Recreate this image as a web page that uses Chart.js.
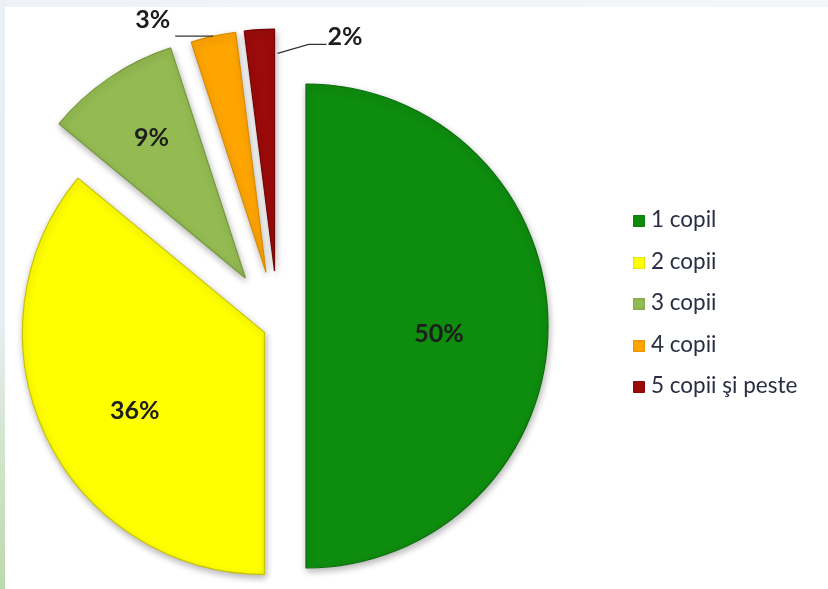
<!DOCTYPE html>
<html>
<head>
<meta charset="utf-8">
<script src="https://cdn.jsdelivr.net/npm/chart.js@4"></script>
<style>
  html, body { margin: 0; padding: 0; }
  body { width: 828px; height: 589px; overflow: hidden; background: #ffffff; position: relative; }
  #frameTop { position: absolute; left: 0; top: 0; width: 828px; height: 7px;
    background: linear-gradient(90deg, #eef2f6 0%, #f1f4f8 40%, #f4f6f9 100%); }
  #frameLeft { position: absolute; left: 0; top: 0; width: 5px; height: 589px;
    background: linear-gradient(180deg, #eaf0f6 0%, #e6eef2 55%, #cfe3c6 80%, #bcd9ae 100%); }
  #chart { position: absolute; left: 0; top: 0; }
  #legend { position: absolute; left: 633px; top: 205px; font-family: Lato, "Open Sans", sans-serif;
    font-size: 22.5px; color: #2a2e42; }
  #legend .row { height: 41.5px; display: flex; align-items: flex-start; white-space: nowrap; }
  #legend .sw { width: 12px; height: 12px; margin-top: 10px; margin-right: 6px; border-radius: 1px;
    box-shadow: inset 0 0 2px rgba(0,0,0,0.35); }
</style>
</head>
<body>
<div id="frameTop"></div>
<div id="frameLeft"></div>
<canvas id="chart" width="828" height="589"></canvas>
<div id="legend"></div>
<script>
// Households by number of children
const categories = ['1 copil', '2 copii', '3 copii', '4 copii', '5 copii şi peste'];
const shares = [50, 36, 9, 3, 2];

// Styling
const sliceColors = ['#0e8c0e', '#ffff00', '#94bb52', '#ffa500', '#9c0b0b'];
const sliceBorders = ['#0a6d0a', '#c9c400', '#76993c', '#d88a00', '#740606'];
const explode = [28, 15, 58, 55, 55];          // pull-out distance of each slice, px
const innerLabelRadius = [0.55, 0.62, 0.69];   // label distance as fraction of radius
const innerLabelShift = [[0, 8], [6, 15], [0, -2]];  // fine nudge of label text, px
const outerLabelSlices = [3, 4];

const pctText = v => v + '%';

// Legend
const legendEl = document.getElementById('legend');
categories.forEach((name, i) => {
  const row = document.createElement('div');
  row.className = 'row';
  const sw = document.createElement('span');
  sw.className = 'sw';
  sw.style.background = sliceColors[i];
  const tx = document.createElement('span');
  tx.textContent = name;
  row.appendChild(sw);
  row.appendChild(tx);
  legendEl.appendChild(row);
});

// Moves each arc outward along its bisector
const explodePlugin = {
  id: 'explodeSlices',
  afterDatasetsUpdate(chart) {
    const meta = chart.getDatasetMeta(0);
    meta.data.forEach((arc, i) => {
      const mid = (arc.startAngle + arc.endAngle) / 2;
      arc.x += Math.cos(mid) * explode[i];
      arc.y += Math.sin(mid) * explode[i];
    });
  },
  beforeDatasetsDraw(chart) {
    const ctx = chart.ctx;
    ctx.save();
    ctx.shadowColor = 'rgba(0,0,0,0.30)';
    ctx.shadowBlur = 7;
    ctx.shadowOffsetX = 1;
    ctx.shadowOffsetY = 3;
  },
  afterDatasetsDraw(chart) {
    const ctx = chart.ctx;
    ctx.restore();
    const meta = chart.getDatasetMeta(0);
    ctx.save();
    ctx.fillStyle = '#1d1d1d';
    ctx.font = 'bold 25px Lato, "Open Sans", sans-serif';
    ctx.textAlign = 'center';
    ctx.textBaseline = 'middle';
    // labels inside the larger slices
    innerLabelRadius.forEach((k, i) => {
      const arc = meta.data[i];
      const mid = (arc.startAngle + arc.endAngle) / 2;
      const r = arc.outerRadius * k;
      ctx.fillText(pctText(shares[i]),
        arc.x + Math.cos(mid) * r + innerLabelShift[i][0],
        arc.y + Math.sin(mid) * r + innerLabelShift[i][1]);
    });
    // small slices: labels outside with leader lines
    ctx.strokeStyle = '#333333';
    ctx.lineWidth = 1.3;
    {
      const i = outerLabelSlices[0];
      const arc = meta.data[i];
      const mid = (arc.startAngle + arc.endAngle) / 2;
      const ax = arc.x + Math.cos(mid) * arc.outerRadius;
      const ay = arc.y + Math.sin(mid) * arc.outerRadius;
      ctx.beginPath();
      ctx.moveTo(ax, ay);
      ctx.lineTo(ax - 38, ay);
      ctx.stroke();
      ctx.textAlign = 'right';
      ctx.fillText(pctText(shares[i]), ax - 43, ay - 16);
    }
    {
      const i = outerLabelSlices[1];
      const arc = meta.data[i];
      const a = arc.endAngle;
      const ax = arc.x + Math.cos(a) * arc.outerRadius * 0.9 + 3;
      const ay = arc.y + Math.sin(a) * arc.outerRadius * 0.9;
      ctx.beginPath();
      ctx.moveTo(ax, ay);
      ctx.lineTo(ax + 31, ay - 9);
      ctx.lineTo(ax + 49, ay - 9);
      ctx.stroke();
      ctx.textAlign = 'left';
      ctx.fillText(pctText(shares[i]), ax + 50, ay - 16);
    }
    ctx.restore();
  }
};

new Chart(document.getElementById('chart'), {
  type: 'pie',
  data: {
    labels: categories,
    datasets: [{
      data: shares,
      backgroundColor: sliceColors,
      borderColor: sliceBorders,
      borderWidth: 1.2
    }]
  },
  options: {
    responsive: false,
    animation: false,
    events: [],
    radius: 242,
    layout: { padding: { left: 0, right: 272, top: 63, bottom: 0 } },
    plugins: {
      legend: { display: false },
      tooltip: { enabled: false }
    }
  },
  plugins: [explodePlugin]
});
</script>
</body>
</html>
